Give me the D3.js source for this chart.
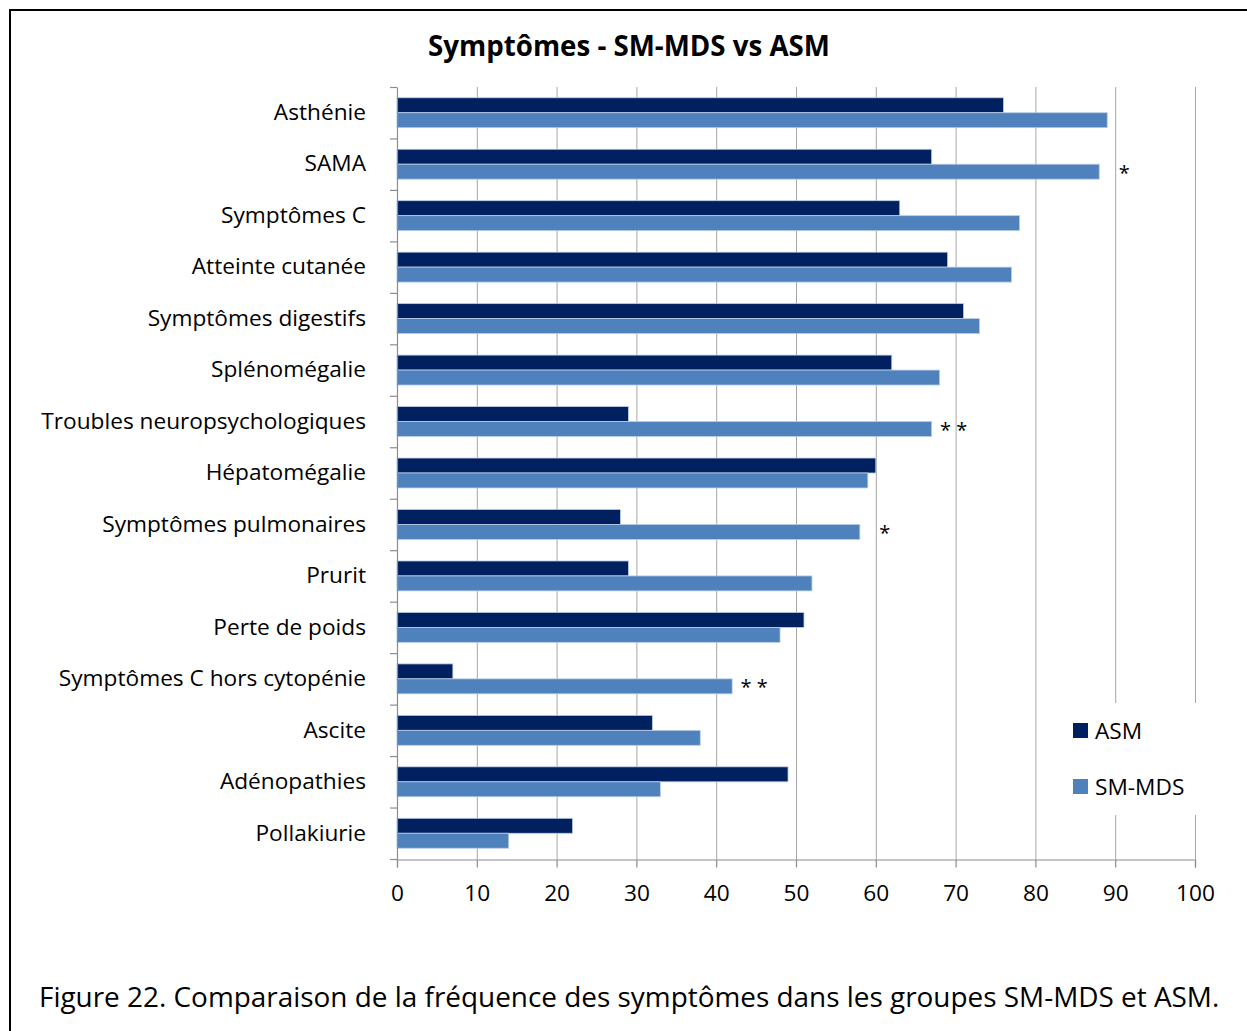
<!DOCTYPE html>
<html><head><meta charset="utf-8">
<script src="https://cdn.jsdelivr.net/npm/d3@7"></script>
<style>
html,body{margin:0;padding:0;background:#fff;}
svg{display:block;}
text{font-family:"Open Sans",Lato,sans-serif;fill:#000;}
</style></head>
<body>
<svg id="chart" width="1247" height="1031"></svg>
<script>
const categories = ["Asthénie","SAMA","Symptômes C","Atteinte cutanée","Symptômes digestifs","Splénomégalie","Troubles neuropsychologiques","Hépatomégalie","Symptômes pulmonaires","Prurit","Perte de poids","Symptômes C hors cytopénie","Ascite","Adénopathies","Pollakiurie"];
const asmValues   = [76,67,63,69,71,62,29,60,28,29,51,7,32,49,22];
const smmdsValues = [89,88,78,77,73,68,67,59,58,52,48,42,38,33,14];
const seriesNames = ["ASM","SM-MDS"];
const seriesColors = ["#002060","#4F81BD"];
const xTicks = [0,10,20,30,40,50,60,70,80,90,100];
const significance = [["SAMA","*"],["Troubles neuropsychologiques","* *"],["Symptômes pulmonaires","*"],["Symptômes C hors cytopénie","* *"]];
const titleText = "Symptômes - SM-MDS vs ASM";
const captionText = "Figure 22. Comparaison de la fréquence des symptômes dans les groupes SM-MDS et ASM.";

const svg = d3.select("#chart");
const x = d3.scaleLinear().domain([0,100]).range([397,1195]);
const y = d3.scaleBand().domain(categories).range([87,859]).padding(0);
const ySub = d3.scaleBand().domain(seriesNames).range([0,y.bandwidth()]).paddingInner(0).paddingOuter(0.72);

function fitWidth(sel, size, target){
  sel.attr("font-size", size);
  const w = sel.node().getComputedTextLength();
  sel.attr("font-size", size*target/w);
  return size*target/w;
}

// frame
svg.append("line").attr("x1",9).attr("x2",1247).attr("y1",10).attr("y2",10).attr("stroke","#000").attr("stroke-width",2);
svg.append("line").attr("x1",10).attr("x2",10).attr("y1",9).attr("y2",1031).attr("stroke","#000").attr("stroke-width",2);

// gridlines
svg.append("g").selectAll("line").data(xTicks.slice(1)).join("line")
  .attr("x1",d=>x(d)+0.5).attr("x2",d=>x(d)+0.5).attr("y1",87).attr("y2",859)
  .attr("stroke","#a6a6a6").attr("stroke-width",1);

// bars
const data = categories.map((c,i)=>({cat:c, vals:[asmValues[i], smmdsValues[i]]}));
const groups = svg.append("g").selectAll("g").data(data).join("g")
  .attr("transform",d=>`translate(0,${y(d.cat)})`);
groups.selectAll("rect").data(d=>d.vals.map((v,j)=>({s:seriesNames[j], v, c:seriesColors[j]}))).join("rect")
  .attr("x",x(0)).attr("y",d=>ySub(d.s)).attr("width",d=>x(d.v)-x(0)).attr("height",ySub.bandwidth())
  .attr("fill",d=>d.c).attr("stroke","#b9cde5").attr("stroke-width",0.8);

// y axis
const yAxis = d3.axisLeft(y).tickSize(0).tickPadding(31);
const yg = svg.append("g").attr("transform",`translate(${x(0)},0)`).call(yAxis);
yg.select(".domain").attr("stroke","#8c8c8c").attr("stroke-width",1.2);
yg.selectAll("text").attr("font-family","'Open Sans'").attr("fill","#000");
const longest = yg.selectAll("text").filter(d=>d==="Troubles neuropsychologiques");
const labelSize = fitWidth(longest, 21, 325);
yg.selectAll("text").attr("font-size",labelSize);
// category boundary ticks
svg.append("g").selectAll("line").data(categories.map(c=>y(c)).concat([859])).join("line")
  .attr("x1",x(0)-7).attr("x2",x(0)).attr("y1",d=>d+0.5).attr("y2",d=>d+0.5)
  .attr("stroke","#8c8c8c").attr("stroke-width",1.2);

// x axis
const xAxis = d3.axisBottom(x).tickValues(xTicks).tickSize(8).tickPadding(17).tickFormat(d3.format("d"));
const xg = svg.append("g").attr("transform","translate(0,859.5)").call(xAxis);
xg.select(".domain").attr("stroke","#8c8c8c").attr("stroke-width",1.2);
xg.selectAll(".tick line").attr("stroke","#8c8c8c").attr("stroke-width",1.2);
xg.selectAll("text").attr("font-size",labelSize).attr("font-family","'Open Sans'").attr("fill","#000");

// significance marks
svg.append("g").selectAll("text").data(significance).join("text")
  .attr("x",d=>x(smmdsValues[categories.indexOf(d[0])])+ (d[1].length>1?22:25))
  .attr("y",d=>y(d[0])+ySub("SM-MDS")+ySub.bandwidth()/2+8)
  .attr("text-anchor","middle")
  .attr("font-family","'DejaVu Sans'").attr("font-size",20).attr("fill","#222").text(d=>d[1]);

// legend
const lg = svg.append("g");
lg.append("rect").attr("x",1060).attr("y",703).attr("width",140).attr("height",112).attr("fill","#fff");
seriesNames.forEach((s,i)=>{
  const yy = 731 + i*56;
  lg.append("rect").attr("x",1073).attr("y",yy-8).attr("width",15).attr("height",15).attr("fill",seriesColors[i]);
  lg.append("text").attr("x",1095).attr("y",yy).attr("dy","0.35em").attr("font-size",labelSize).text(s);
});

// title
const t = svg.append("text").attr("x",629).attr("y",56).attr("text-anchor","middle")
  .attr("font-weight","bold").text(titleText);
fitWidth(t, 24, 402);

// caption
const cap = svg.append("text").attr("x",39).attr("y",1007).text(captionText);
fitWidth(cap, 26, 1181);
</script>
</body></html>
